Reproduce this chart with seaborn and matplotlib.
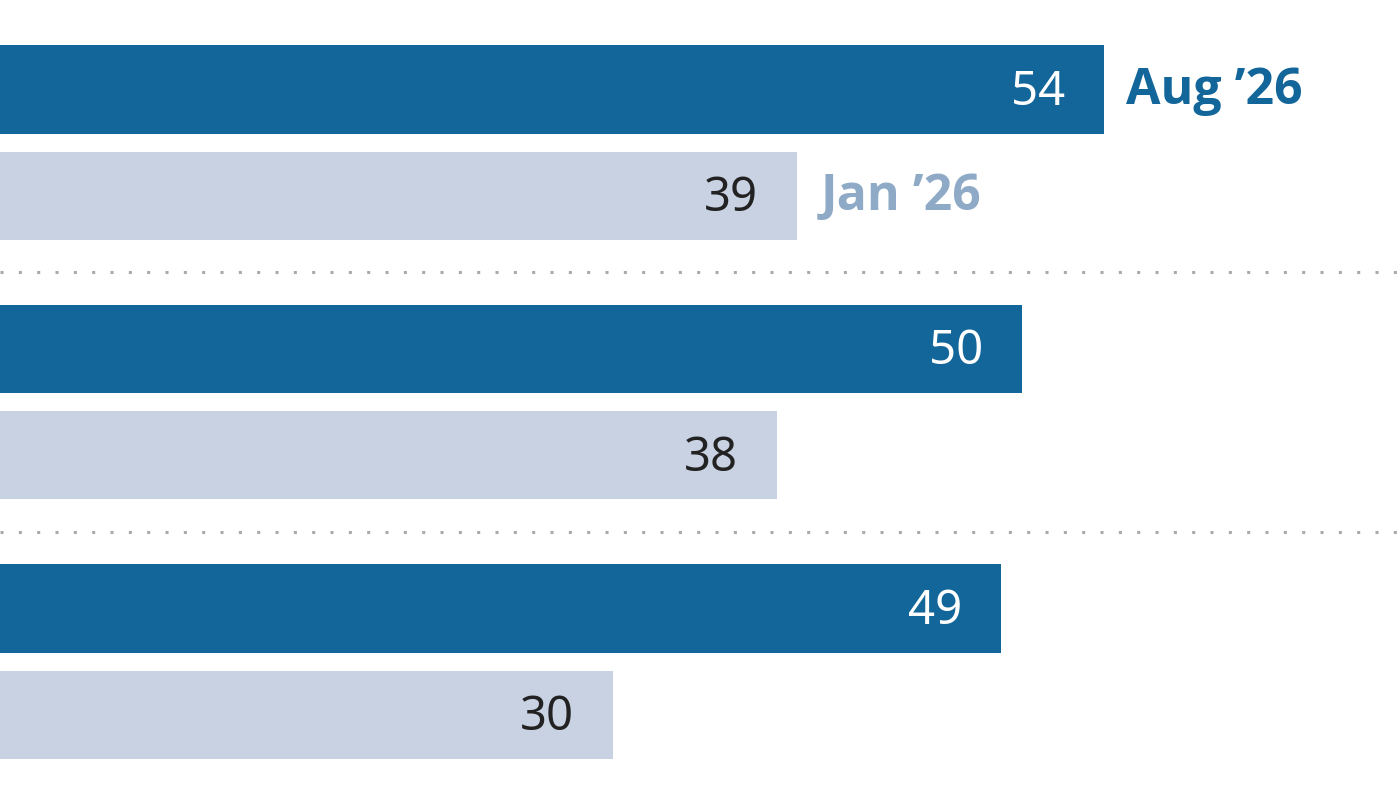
import pandas as pd
import matplotlib.pyplot as plt
import seaborn as sns

# data
groups = ["Group A", "Group B", "Group C"]
periods = ["Aug \u201926", "Jan \u201926"]
aug_values = [54, 50, 49]
jan_values = [39, 38, 30]

df = pd.DataFrame({
    "group": groups * 2,
    "period": [periods[0]] * 3 + [periods[1]] * 3,
    "value": aug_values + jan_values,
})

dark = "#13669A"
light = "#C9D2E3"
jan_text = "#8FAAC6"

sns.set_theme(style="white")
plt.rcParams["font.family"] = ["Noto Sans", "DejaVu Sans"]

fig = plt.figure(figsize=(14, 7.89), dpi=100)
ax = fig.add_axes([0, 0, 1, 1])

sns.barplot(data=df, x="value", y="group", hue="period", orient="h",
            palette=[dark, light], width=0.82, gap=0.17, dodge=True,
            legend=False, ax=ax, saturation=1, linewidth=0, edgecolor="none")

ax.set_xlim(0, 68.5)
ax.set_ylim(2.491, -0.550)

# dotted separators between groups
for yy in [0.5, 1.5]:
    ax.axhline(yy, color="#AAAAAA", linestyle=(0, (1, 5)), linewidth=2.2)

# value labels inside the bar ends
for i, cont in enumerate(ax.containers):
    col = "white" if i == 0 else "#222222"
    for p in cont:
        w = p.get_width()
        yc = p.get_y() + p.get_height() / 2
        ax.annotate(f"{w:.0f}", (w, yc), xytext=(-28, -2), textcoords="offset points",
                    ha="right", va="center", fontsize=34, color=col)

# period labels next to the first group's bars
first_aug = ax.containers[0][0]
first_jan = ax.containers[1][0]
lab_font = ["Open Sans", "DejaVu Sans"]
ax.annotate(periods[0], (first_aug.get_width(), first_aug.get_y() + first_aug.get_height() / 2),
            xytext=(16, -1), textcoords="offset points", ha="left", va="center",
            fontsize=36, fontweight="bold", color=dark, family=lab_font)
ax.annotate(periods[1], (first_jan.get_width(), first_jan.get_y() + first_jan.get_height() / 2),
            xytext=(17, -1), textcoords="offset points", ha="left", va="center",
            fontsize=36, fontweight="bold", color=jan_text, family=lab_font)

ax.set_xlabel("")
ax.set_ylabel("")
ax.set_xticks([])
ax.set_yticks([])
sns.despine(ax=ax, left=True, bottom=True)

fig.savefig("out.png", dpi=100)
